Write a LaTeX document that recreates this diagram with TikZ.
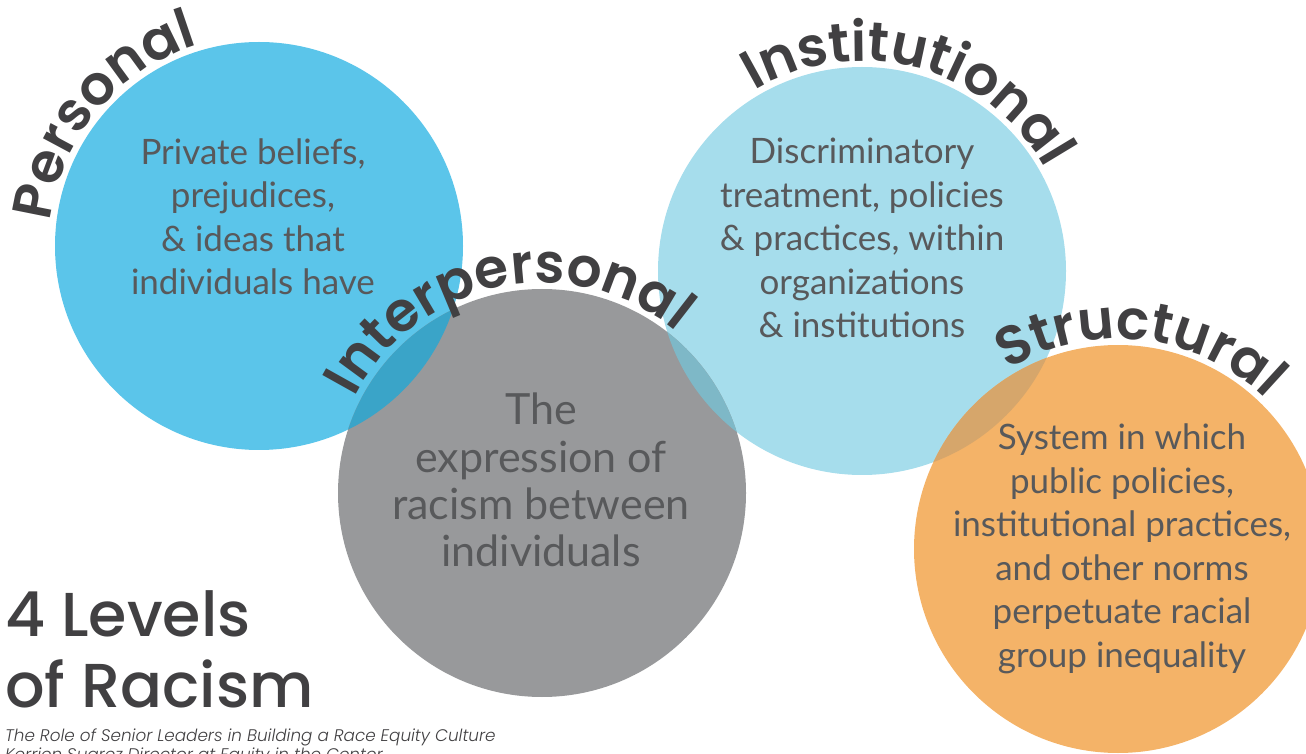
\documentclass[tikz,border=0pt]{standalone}
\usepackage{fontspec}
\setmainfont{Lato}
\newfontfamily\labelfont{Poppins}[UprightFont=* Medium, BoldFont=* SemiBold, ItalicFont=* Light Italic]
\usetikzlibrary{decorations.text}

\definecolor{personalblue}{HTML}{5BC5EA}
\definecolor{instblue}{HTML}{A6DDEC}
\definecolor{intergray}{HTML}{98999B}
\definecolor{structorange}{HTML}{F4B368}
\definecolor{pioverlap}{HTML}{3AA4C8}
\definecolor{iioverlap}{HTML}{7EB8C7}
\definecolor{isoverlap}{HTML}{D6A66B}
\definecolor{labeldark}{HTML}{414042}
\definecolor{bodygray}{HTML}{58595B}

\tikzset{
  level/.style={circle, minimum size=408pt, inner sep=0pt},
  body/.style={align=center, text=bodygray, font=\fontsize{35}{43.5}\selectfont},
  arclabel/.style={decorate, decoration={text along path, text align=center,
      text color=labeldark, text={|\labelfont\bfseries\fontsize{55}{60}\selectfont|#1}}},
  titleline/.style={anchor=base west, inner sep=0pt, text=labeldark},
}

\begin{document}
\begin{tikzpicture}[x=1pt, y=1pt, line join=round, line cap=round]
  \def\r{204} \def\rt{210}
  \useasboundingbox (0,0) rectangle (1306,753);
  \clip (0,0) rectangle (1306,753);
  % the four levels
  \node[level, fill=personalblue] (personal) at (259,507) {};
  \node[level, fill=instblue] (institutional) at (862,482) {};
  \node[level, fill=intergray] (interpersonal) at (542,260) {};
  \node[level, fill=structorange] (structural) at (1118,204) {};
  % overlaps
  \begin{scope}
    \clip (personal.center) circle (\r);
    \fill[pioverlap] (interpersonal.center) circle (\r);
  \end{scope}
  \begin{scope}
    \clip (institutional.center) circle (\r);
    \fill[iioverlap] (interpersonal.center) circle (\r);
  \end{scope}
  \begin{scope}
    \clip (institutional.center) circle (\r);
    \fill[isoverlap] (structural.center) circle (\r);
  \end{scope}
  % texts inside
  \node[body] (personaltext) at (253,536) {Private beliefs,\\prejudices,\\\& ideas that\\individuals have};
  \node[body] (institutionaltext) at (862,515) {Discriminatory\\treatment, policies\\\& practices, within\\organizations\\\& institutions};
  \node[body, font=\fontsize{43}{47.3}\selectfont] (interpersonaltext) at (541,273) {The\\expression of\\racism between\\individuals};
  \node[body] (structuraltext) at (1122,204) {System in which\\public policies,\\institutional practices,\\and other norms\\perpetuate racial\\group inequality};
  % curved names
  \path[arclabel=Personal] (personal.center) ++(190:\rt) arc[start angle=190, end angle=90, radius=\rt];
  \path[arclabel=Institutional] (institutional.center) ++(135:\rt) arc[start angle=135, end angle=15, radius=\rt];
  \path[arclabel=Interpersonal] (interpersonal.center) ++(165:\rt) arc[start angle=165, end angle=38, radius=\rt];
  \path[arclabel=Structural] (structural.center) ++(140:\rt) arc[start angle=140, end angle=27, radius=\rt];
  % title
  \node[titleline, font=\labelfont\fontsize{62}{71}\selectfont] (title) at (5,117) {4 Levels};
  \node[titleline, font=\labelfont\fontsize{62}{71}\selectfont] (title2) at (5,46) {of Racism};
  \node[titleline, font=\labelfont\itshape\fontsize{16.8}{18}\selectfont] (source) at (5,12) {The Role of Senior Leaders in Building a Race Equity Culture};
  \node[titleline, font=\labelfont\itshape\fontsize{16.8}{18}\selectfont] (author) at (5,-7) {Kerrien Suarez Director at Equity in the Center};
\end{tikzpicture}
\end{document}
